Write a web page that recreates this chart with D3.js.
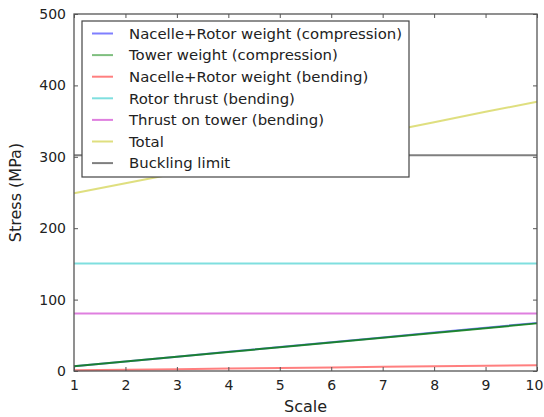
<!DOCTYPE html>
<html><head><meta charset="utf-8">
<script src="https://cdn.jsdelivr.net/npm/d3@7"></script>
<style>body{margin:0;background:#fff;} svg{display:block;}</style>
</head><body><svg id="c" width="544" height="417"></svg>
<script>
const scales = [1,2,3,4,5,6,7,8,9,10];
const seriesNames = ["Nacelle+Rotor weight (compression)","Tower weight (compression)","Nacelle+Rotor weight (bending)","Rotor thrust (bending)","Thrust on tower (bending)","Total","Buckling limit"];
const seriesColors = ["#0000ff","#008000","#ff0000","#00bfbf","#bf00bf","#bfbf00","#000000"];
const nacelleComp = [6.8,13.4,20.1,26.8,33.5,40.3,47,53.8,60.6,67.4];
const towerComp = [6.7,13.3,20,26.7,33.3,40,46.7,53.3,60,66.7];
const nacelleBend = [1,1.8,2.6,3.4,4.2,5,5.8,6.6,7.4,8.2];
const rotorThrust = [150.5,150.5,150.5,150.5,150.5,150.5,150.5,150.5,150.5,150.5];
const towerThrust = [80.5,80.5,80.5,80.5,80.5,80.5,80.5,80.5,80.5,80.5];
const total = [249,263,277,291.5,305.5,320,334,348.5,363,377];
const buckling = [302,302,302,302,302,302,302,302,302,302];
const yTicks = [0,100,200,300,400,500];
const xTicks = [1,2,3,4,5,6,7,8,9,10];
const allSeries = [nacelleComp,towerComp,nacelleBend,rotorThrust,towerThrust,total,buckling];

const W=544,H=417, m={l:74,r:7,t:14,b:46};
const svg=d3.select("#c");
const x=d3.scaleLinear().domain([1,10]).range([m.l,W-m.r]);
const y=d3.scaleLinear().domain([0,500]).range([H-m.b,m.t]);
const font="DejaVu Sans, sans-serif";

const line=d3.line().x((d,i)=>x(scales[i])).y(d=>y(d));
allSeries.forEach((s,k)=>{
  svg.append("path").datum(s).attr("d",line).attr("fill","none")
    .attr("stroke",seriesColors[k]).attr("stroke-opacity",k===1?0.8:0.5).attr("stroke-width",2);
});

// axes (ticks inward, all four sides)
const ax=(g,axis)=>{g.call(axis);g.select(".domain").remove();g.selectAll("line").attr("stroke","#555");
  g.selectAll("text").attr("font-family",font).attr("font-size",14).attr("fill","#222");};
svg.append("g").attr("transform",`translate(0,${H-m.b})`).call(g=>{ax(g,d3.axisBottom(x).tickValues(xTicks).tickFormat(d3.format("d")).tickSizeInner(-4).tickPadding(9));
  g.selectAll("text").filter(d=>d===10).attr("dx",-3);});
svg.append("g").attr("transform",`translate(0,${m.t})`).call(g=>{ax(g,d3.axisTop(x).tickValues(xTicks).tickSizeInner(-4).tickFormat(""));});
svg.append("g").attr("transform",`translate(${m.l},0)`).call(g=>ax(g,d3.axisLeft(y).tickValues(yTicks).tickSizeInner(-4).tickPadding(8)));
svg.append("g").attr("transform",`translate(${W-m.r},0)`).call(g=>{ax(g,d3.axisRight(y).tickValues(yTicks).tickSizeInner(-4).tickFormat(""));});
svg.append("rect").attr("x",m.l).attr("y",m.t).attr("width",W-m.l-m.r).attr("height",H-m.t-m.b)
  .attr("fill","none").attr("stroke","#555").attr("stroke-width",1.3);

// legend
const lg=svg.append("g");
lg.append("rect").attr("x",82).attr("y",21).attr("width",327).attr("height",156)
  .attr("fill","#fff").attr("stroke","#444").attr("stroke-width",1.2);
seriesNames.forEach((n,k)=>{
  const cy=33.5+k*21.6;
  lg.append("line").attr("x1",92).attr("x2",113).attr("y1",cy).attr("y2",cy)
    .attr("stroke",seriesColors[k]).attr("stroke-opacity",0.5).attr("stroke-width",2);
  lg.append("text").attr("x",129).attr("y",cy).attr("dy","0.35em").attr("font-family",font)
    .attr("font-size",14.9).attr("fill","#222").text(n);
});

svg.append("text").attr("x",(m.l+W-m.r)/2).attr("y",412).attr("text-anchor","middle")
  .attr("font-family",font).attr("font-size",16).attr("fill","#222").text("Scale");
svg.append("text").attr("transform",`translate(21,${(m.t+H-m.b)/2}) rotate(-90)`).attr("text-anchor","middle")
  .attr("font-family",font).attr("font-size",16).attr("fill","#222").text("Stress (MPa)");
</script></body></html>
